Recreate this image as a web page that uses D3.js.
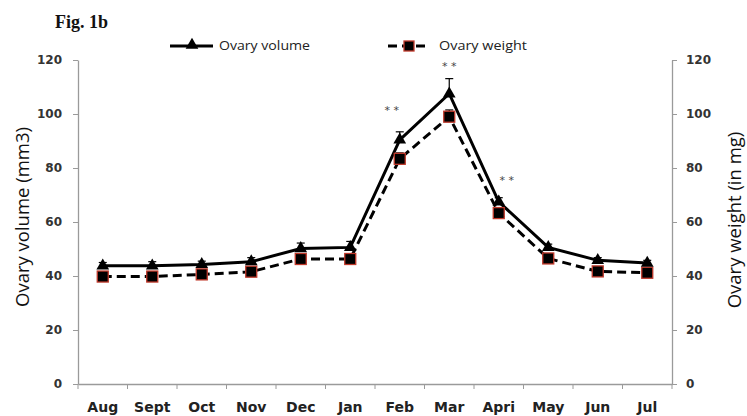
<!DOCTYPE html>
<html>
<head>
<meta charset="utf-8">
<script src="https://cdn.jsdelivr.net/npm/d3@7"></script>
<style>
  html, body { margin: 0; padding: 0; background: #fff; }
  svg { display: block; }
</style>
</head>
<body>
<svg id="chart" width="747" height="416"></svg>
<script>
// ---- data ----
const months = ["Aug", "Sept", "Oct", "Nov", "Dec", "Jan", "Feb", "Mar", "Apri", "May", "Jun", "Jul"];
const ovaryVolume = [43.8, 43.8, 44.3, 45.3, 50.2, 50.6, 90.4, 107.5, 67.5, 50.6, 45.8, 44.8];
const volumeError = [1.2, 1.5, 1.2, 1.5, 2.0, 2.2, 3.0, 5.6, 1.5, 1.2, 1.0, 1.0];
const ovaryWeight = [39.8, 39.8, 40.6, 41.6, 46.3, 46.3, 83.4, 99.0, 63.3, 46.5, 41.7, 41.2];
const weightError = [0.8, 0.8, 0.8, 0.8, 1.0, 1.0, 2.2, 2.5, 1.0, 0.8, 0.8, 0.8];
const yTicks = [0, 20, 40, 60, 80, 100, 120];
const significance = [
  { month: "Feb", value: 101.5, label: "* *" },
  { month: "Mar", value: 117.8, label: "* *" },
  { month: "Apri", value: 75.5, label: "* *" }
];
const legendItems = ["Ovary volume", "Ovary weight"];

// ---- layout ----
const svg = d3.select("#chart");
const mLeft = 78, mRight = 672, mTop = 60, mBottom = 384;

const x = d3.scaleBand().domain(months).range([mLeft, mRight]).padding(0);
const yL = d3.scaleLinear().domain([0, 120]).range([mBottom, mTop]);
const yR = d3.scaleLinear().domain([0, 120]).range([mBottom, mTop]);
const cx = m => x(m) + x.bandwidth() / 2;

const axisColor = "#9a9a9a";

// Left axis
const gL = svg.append("g").attr("transform", `translate(${mLeft},0)`)
  .call(d3.axisLeft(yL).tickValues(yTicks).tickSize(5).tickPadding(11).tickSizeOuter(0));
// Right axis
const gR = svg.append("g").attr("transform", `translate(${mRight},0)`)
  .call(d3.axisRight(yR).tickValues(yTicks).tickSize(5).tickPadding(9).tickSizeOuter(0));
// Bottom axis
const gB = svg.append("g").attr("transform", `translate(0,${mBottom})`)
  .call(d3.axisBottom(x).tickSize(0).tickPadding(18));
// boundary ticks for category axis
svg.append("g").selectAll("line")
  .data(months.concat(["__end"]))
  .join("line")
  .attr("x1", (d, i) => mLeft + i * x.bandwidth())
  .attr("x2", (d, i) => mLeft + i * x.bandwidth())
  .attr("y1", mBottom).attr("y2", mBottom + 5)
  .attr("stroke", axisColor).attr("stroke-width", 1);

[gL, gR, gB].forEach(g => {
  g.selectAll(".domain").attr("stroke", axisColor).attr("stroke-width", 1.3);
  g.selectAll(".tick line").attr("stroke", axisColor);
});
[gL, gR].forEach(g => {
  g.selectAll(".tick text")
    .attr("font-family", "DejaVu Sans, sans-serif")
    .attr("font-weight", "bold")
    .attr("font-size", 12)
    .attr("fill", "#333");
});
gB.selectAll(".tick text")
  .attr("font-family", "DejaVu Sans, sans-serif")
  .attr("font-weight", "bold")
  .attr("font-size", 14)
  .attr("fill", "#222");

// Axis titles
svg.append("text")
  .attr("transform", `translate(29,217) rotate(-90)`)
  .attr("text-anchor", "middle")
  .attr("font-family", "Open Sans, sans-serif")
  .attr("font-size", 18.5)
  .attr("fill", "#111")
  .text("Ovary volume (mm3)");
svg.append("text")
  .attr("transform", `translate(741,220) rotate(-90)`)
  .attr("text-anchor", "middle")
  .attr("font-family", "Open Sans, sans-serif")
  .attr("font-size", 18.5)
  .attr("fill", "#111")
  .text("Ovary weight (in mg)");

// Title
svg.append("text")
  .attr("x", 55).attr("y", 28)
  .attr("font-family", "Liberation Serif, serif")
  .attr("font-weight", "bold")
  .attr("font-size", 18)
  .attr("fill", "#111")
  .text("Fig. 1b");

// Error bars
function errorBars(vals, errs, scale) {
  const g = svg.append("g").attr("stroke", "#000").attr("stroke-width", 1.2);
  months.forEach((m, i) => {
    const xc = cx(m), y0 = scale(vals[i]), y1 = scale(vals[i] + errs[i]);
    g.append("line").attr("x1", xc).attr("x2", xc).attr("y1", y0).attr("y2", y1);
    g.append("line").attr("x1", xc - 4).attr("x2", xc + 4).attr("y1", y1).attr("y2", y1);
  });
}
errorBars(ovaryWeight, weightError, yR);
errorBars(ovaryVolume, volumeError, yL);

// Lines
const lineW = d3.line().x((d, i) => cx(months[i])).y(d => yR(d));
const lineV = d3.line().x((d, i) => cx(months[i])).y(d => yL(d));
svg.append("path").datum(ovaryWeight).attr("d", lineW)
  .attr("fill", "none").attr("stroke", "#000").attr("stroke-width", 3)
  .attr("stroke-dasharray", "9,5");
svg.append("path").datum(ovaryVolume).attr("d", lineV)
  .attr("fill", "none").attr("stroke", "#000").attr("stroke-width", 3);

// Markers
const tri = d3.symbol().type(d3.symbolTriangle).size(70);
svg.append("g").selectAll("rect")
  .data(ovaryWeight).join("rect")
  .attr("x", (d, i) => cx(months[i]) - 5.5)
  .attr("y", d => yR(d) - 5.5)
  .attr("width", 11).attr("height", 11)
  .attr("fill", "#000").attr("stroke", "#c0392b").attr("stroke-width", 1.3);
svg.append("g").selectAll("path")
  .data(ovaryVolume).join("path")
  .attr("d", tri)
  .attr("transform", (d, i) => `translate(${cx(months[i])},${yL(d)})`)
  .attr("fill", "#000");

// Significance marks
const sigDx = { "Feb": -8, "Mar": 0, "Apri": 8 };
svg.append("g").selectAll("text")
  .data(significance).join("text")
  .attr("x", d => cx(d.month) + sigDx[d.month])
  .attr("y", d => yL(d.value) + 4)
  .attr("text-anchor", "middle")
  .attr("font-family", "DejaVu Sans, sans-serif")
  .attr("font-size", 11)
  .attr("fill", "#444")
  .text(d => d.label);

// Legend
const leg = svg.append("g");
leg.append("line").attr("x1", 170).attr("x2", 213).attr("y1", 46).attr("y2", 46)
  .attr("stroke", "#000").attr("stroke-width", 3);
leg.append("path").attr("d", tri).attr("transform", "translate(192,45)").attr("fill", "#000");
leg.append("text").attr("x", 219).attr("y", 50)
  .attr("font-family", "Open Sans, sans-serif").attr("font-size", 12.5).attr("fill", "#222")
  .attr("textLength", 91).attr("lengthAdjust", "spacingAndGlyphs")
  .text(legendItems[0]);
leg.append("line").attr("x1", 388).attr("x2", 430).attr("y1", 46).attr("y2", 46)
  .attr("stroke", "#000").attr("stroke-width", 3).attr("stroke-dasharray", "9,5");
leg.append("rect").attr("x", 404).attr("y", 41).attr("width", 10).attr("height", 10)
  .attr("fill", "#000").attr("stroke", "#c0392b").attr("stroke-width", 1.3);
leg.append("text").attr("x", 439).attr("y", 50)
  .attr("font-family", "Open Sans, sans-serif").attr("font-size", 12.5).attr("fill", "#222")
  .attr("textLength", 88).attr("lengthAdjust", "spacingAndGlyphs")
  .text(legendItems[1]);
</script>
</body>
</html>
